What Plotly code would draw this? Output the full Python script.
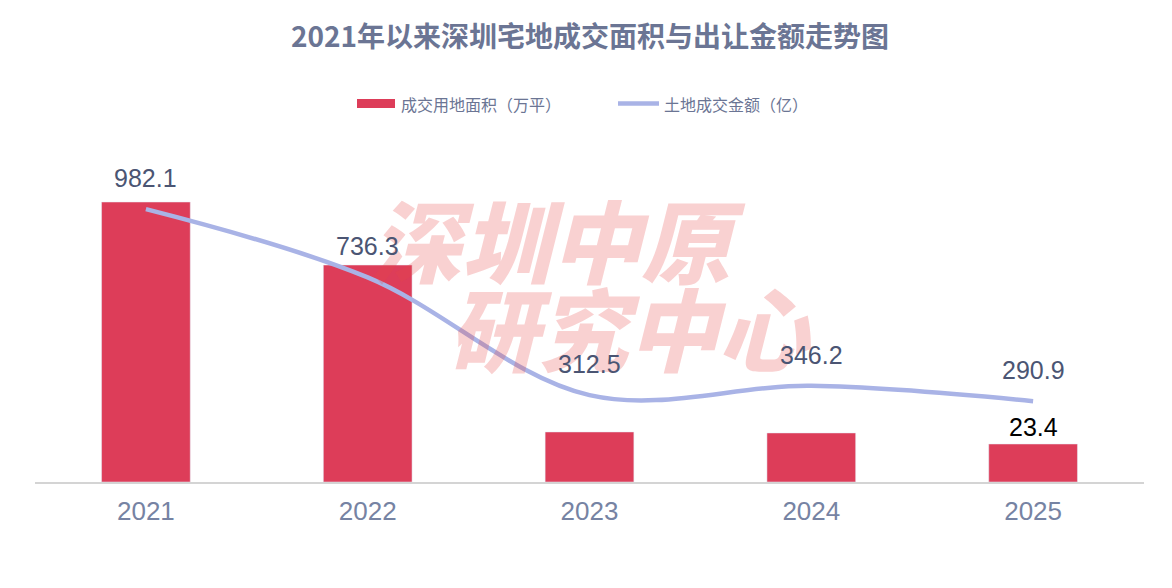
import plotly.graph_objects as go

years = ["2021", "2022", "2023", "2024", "2025"]
area = [172.4, 133.6, 30.8, 30.2, 23.4]          # 成交用地面积（万平）
amount = [982.1, 736.3, 312.5, 346.2, 290.9]     # 土地成交金额（亿）
bar_label_index = [4]

title = "2021年以来深圳宅地成交面积与出让金额走势图"
name_bar = "成交用地面积（万平）"
name_line = "土地成交金额（亿）"
watermark = ["深圳中原", "研究中心"]

BAR_C = "#DD3D59"
LINE_C = "#A9B3E6"
FONT = "Liberation Sans, Arial, Noto Sans CJK SC, sans-serif"
CJK = "Noto Sans CJK SC, sans-serif"

# page has an 8px body margin; figure coordinates are compensated
OFF = 8
W, H = 1172 - OFF, 588 - OFF
PL, PR, PT, PB = 35, 1144, 140, 482   # plot area in page pixels
PW, PH = PR - PL, PB - PT


def px(xp):
    return (xp - PL) / PW


def py(yp):
    return (PB - yp) / PH


fig = go.Figure()
fig.add_trace(go.Bar(x=years, y=area, name=name_bar, marker_color=BAR_C,
                     width=0.4, yaxis="y", showlegend=False))
fig.add_trace(go.Scatter(x=years, y=amount, name=name_line, mode="lines",
                         line=dict(color=LINE_C, width=4.5, shape="spline", smoothing=1.0),
                         yaxis="y2", showlegend=False))

ann = []
# watermark
wm_font = dict(family=CJK, size=90, color="rgba(232,70,70,0.25)", weight=900, style="italic")
ann.append(dict(xref="paper", yref="paper", x=px(558), y=py(238), text=watermark[0], showarrow=False,
                font=wm_font, xanchor="center", yanchor="middle"))
ann.append(dict(xref="paper", yref="paper", x=px(630), y=py(326), text=watermark[1], showarrow=False,
                font=wm_font, xanchor="center", yanchor="middle"))
# line labels
for i, yv in enumerate(amount):
    ann.append(dict(x=i, y=yv, xref="x", yref="y2", text=f"{yv:.1f}", showarrow=False,
                    yshift=31, yanchor="middle",
                    font=dict(family=FONT, size=25, color="#4B5573")))
for i in bar_label_index:
    ann.append(dict(x=i, y=area[i], xref="x", yref="y", text=f"{area[i]:.1f}", showarrow=False,
                    yshift=1, yanchor="bottom",
                    font=dict(family=FONT, size=25, color="#000000")))
# custom legend
ann.append(dict(xref="paper", yref="paper", x=px(399), y=py(104),
                text=name_bar, showarrow=False, xanchor="left", yanchor="middle",
                font=dict(family=CJK, size=16, color="#6B7594")))
ann.append(dict(xref="paper", yref="paper", x=px(662), y=py(104),
                text=name_line, showarrow=False, xanchor="left", yanchor="middle",
                font=dict(family=CJK, size=16, color="#6B7594")))

shapes = [
    dict(type="rect", xref="paper", yref="paper",
         x0=px(357), x1=px(395), y0=py(108), y1=py(99),
         fillcolor=BAR_C, line=dict(width=0)),
    dict(type="line", xref="paper", yref="paper",
         x0=px(618), x1=px(659), y0=py(103.5), y1=py(103.5),
         line=dict(color=LINE_C, width=4.5)),
]

fig.update_layout(
    width=W, height=H,
    margin=dict(l=PL - OFF, r=W - (PR - OFF), t=PT - OFF, b=H - (PB - OFF)),
    paper_bgcolor="white", plot_bgcolor="white",
    title=dict(text=title, x=0.5, xanchor="center", y=1 - (37 - OFF) / H, yanchor="middle",
               font=dict(family=CJK, size=28, color="#6B7594", weight="bold")),
    xaxis=dict(type="category", range=[-0.5, 4.5], autorange=False,
               showgrid=False, showline=True, linecolor="#D4D4D4", linewidth=2,
               ticks="", ticklabelstandoff=5,
               tickfont=dict(family=FONT, size=26, color="#7683A3")),
    yaxis=dict(range=[0, 210.6], autorange=False, visible=False, showgrid=False, zeroline=False),
    yaxis2=dict(range=[0, 1231], autorange=False, overlaying="y", side="right", visible=False,
                showgrid=False, zeroline=False),
    annotations=ann, shapes=shapes, bargap=0.6,
)

fig.write_html("out.html")
